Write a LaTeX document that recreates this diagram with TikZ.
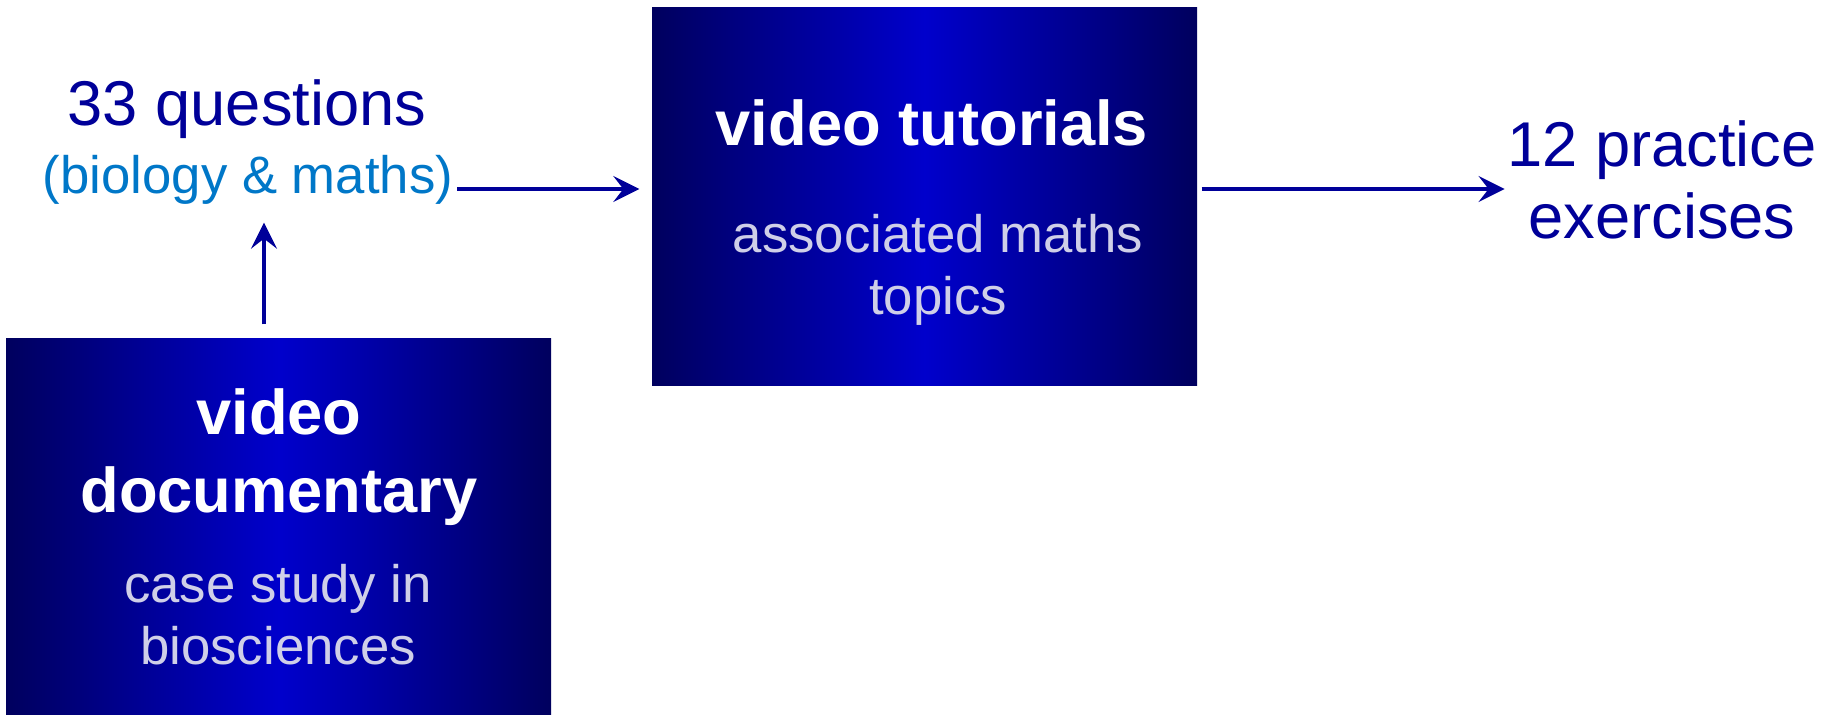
\documentclass[tikz,border=0pt]{standalone}
\usepackage{fontspec}
\setmainfont{Liberation Sans}
\usetikzlibrary{positioning,arrows.meta}
\definecolor{DeepNavy}{HTML}{00005E}
\definecolor{BrightBlue}{HTML}{0000CC}
\definecolor{InkNavy}{HTML}{000099}
\definecolor{SkyBlue}{HTML}{0077C8}
\definecolor{PaleLilac}{HTML}{CFCFE8}

\begin{document}
\begin{tikzpicture}[
  vidbox/.style={left color=DeepNavy,right color=DeepNavy,middle color=BrightBlue,minimum width=5.45cm,inner sep=0pt},
  boxtitle/.style={text=white,font=\fontsize{18}{22.2}\selectfont\bfseries,align=center,inner sep=0pt,anchor=base},
  boxnote/.style={text=PaleLilac,font=\fontsize{15}{17.9}\selectfont,align=center,inner sep=0pt,anchor=base},
  flow/.style={-{Stealth[length=2.6mm,width=2.6mm,inset=1mm]},InkNavy,line width=1pt}
]
\useasboundingbox (0,0) rectangle (18.29,-7.16);
% the two video boxes
\node[vidbox,minimum height=3.75cm] (documentary) at (2.785,-5.265) {};
\node[vidbox,minimum height=3.78cm] (tutorials) at (9.245,-1.97) {};
\node[boxtitle] (doctitle) at (2.79,-5.13) {video\\documentary};
\node[boxnote] (docnote) at (2.78,-6.65) {case study in\\biosciences};
\node[boxtitle] (tuttitle) at (9.32,-1.46) {video tutorials};
\node[boxnote] (tutnote) at (9.38,-3.15) {associated maths\\topics};
% plain text
\node[anchor=base,text=InkNavy,font=\fontsize{18}{22}\selectfont,inner sep=0pt] (questions) at (2.47,-1.26) {33 questions};
\node[anchor=base,text=SkyBlue,font=\fontsize{15}{18}\selectfont,inner sep=1pt] (subjects) at (2.48,-1.94) {(biology \& maths)};
\node[anchor=base,text=InkNavy,font=\fontsize{18}{20.5}\selectfont,align=center,inner sep=0pt] (practice) at (16.62,-2.39) {12 practice\\exercises};
% arrows
\coordinate (tutin) at ([yshift=0.08cm]tutorials.west);
\coordinate (tutout) at ([yshift=0.08cm]tutorials.east);
\coordinate (docout) at ([xshift=-0.145cm]documentary.north);
\draw[flow,shorten >=0.12cm] (subjects.east |- tutin) -- (tutin);
\draw[flow,shorten <=0.04cm,shorten >=0.02cm] (tutout) -- (tutout -| practice.west);
\draw[flow,shorten <=0.14cm,shorten >=0.135cm] (docout) -- (docout |- subjects.south);
\end{tikzpicture}
\end{document}
